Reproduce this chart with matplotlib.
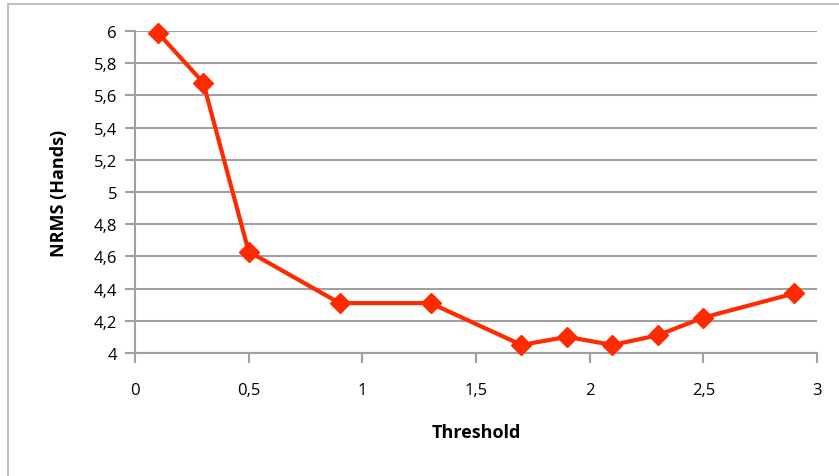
import matplotlib
matplotlib.use('Agg')
import matplotlib.pyplot as plt
from matplotlib.ticker import FuncFormatter, MultipleLocator
from matplotlib.patches import Rectangle

# data
threshold = [0.1, 0.3, 0.5, 0.9, 1.3, 1.7, 1.9, 2.1, 2.3, 2.5, 2.9]
nrms_hands = [5.99, 5.68, 4.63, 4.31, 4.31, 4.05, 4.10, 4.05, 4.11, 4.22, 4.37]

plt.rcParams['font.family'] = ['Open Sans', 'DejaVu Sans']

fig = plt.figure(figsize=(8.39, 4.77), dpi=100)
ax = fig.add_axes([135 / 839, 1 - 354 / 477, (817 - 135) / 839, (354 - 32) / 477])

# outer chart frame (Excel style)
fig.patches.append(Rectangle((8 / 839, -0.01), 1.0, 1 - 5 / 477 + 0.01,
                             transform=fig.transFigure, fill=False,
                             edgecolor='#bfbfbf', linewidth=1.5))

ax.plot(threshold, nrms_hands, color='#ff2a00', linewidth=3, marker='D',
        markersize=10, zorder=3, clip_on=False)

ax.set_xlim(0, 3)
ax.set_ylim(4, 6)
ax.xaxis.set_major_locator(MultipleLocator(0.5))
ax.yaxis.set_major_locator(MultipleLocator(0.2))

fmt = FuncFormatter(lambda v, p: f'{v:g}'.replace('.', ','))
ax.xaxis.set_major_formatter(fmt)
ax.yaxis.set_major_formatter(fmt)

ax.grid(axis='y', color='#a0a0a0', linewidth=1.5)
ax.set_axisbelow(True)
for s in ['top', 'right']:
    ax.spines[s].set_visible(False)
for s in ['left', 'bottom']:
    ax.spines[s].set_color('#a0a0a0')
    ax.spines[s].set_linewidth(1.5)

ax.tick_params(axis='both', colors='#a0a0a0', labelcolor='black', labelsize=12,
               length=7, width=1.5, direction='out')
ax.tick_params(axis='x', pad=14)
ax.tick_params(axis='y', pad=6)

ax.set_xlabel('Threshold', fontsize=13, fontweight='bold', labelpad=18)
ax.set_ylabel('NRMS (Hands)', fontsize=13, fontweight='bold', labelpad=18)

plt.savefig('out.png', dpi=100)
plt.close()
